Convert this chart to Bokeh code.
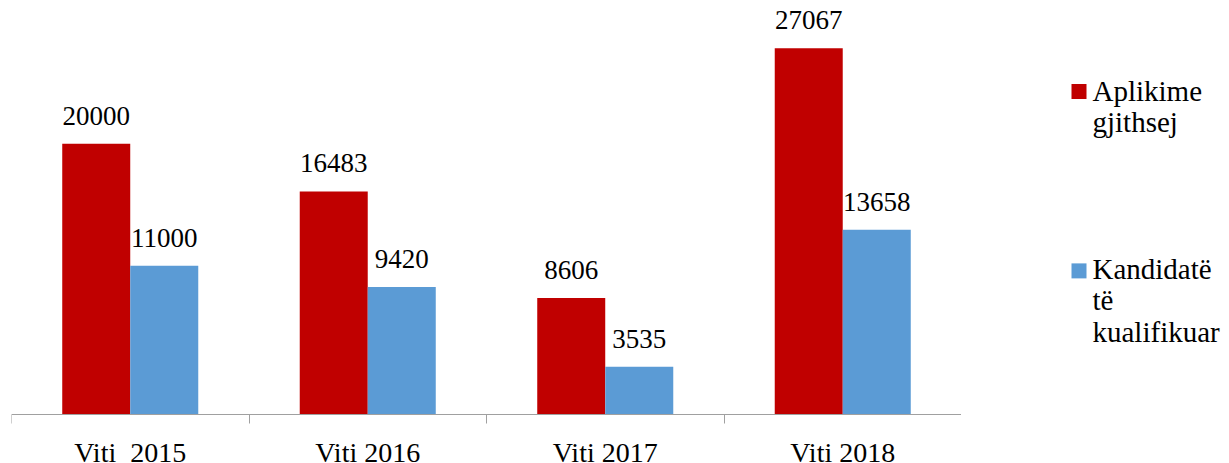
from bokeh.plotting import figure
from bokeh.models import Range1d, FixedTicker, ColumnDataSource, LabelSet
from bokeh.transform import dodge
from bokeh.layouts import row
from bokeh.core.properties import value
from bokeh.embed import file_html
from bokeh.resources import INLINE

# ---- data ----
categories = ["Viti\u00a0 2015", "Viti 2016", "Viti 2017", "Viti 2018"]
aplikime = [20000, 16483, 8606, 27067]
kandidate = [11000, 9420, 3535, 13658]
series_names = [["Aplikime", "gjithsej"], ["Kandidatë", "të", "kualifikuar"]]
colors = ["#C00000", "#5B9BD5"]

FONT = "Liberation Serif"
AXIS_GRAY = "#A0A0A0"

n = len(categories)
xpos = [i + 0.5 for i in range(n)]
src = ColumnDataSource(dict(x=xpos, a=aplikime, k=kandidate, cat=categories, base=[0] * n))

YMAX = 30000
PX_PER_UNIT = 406 / YMAX
BELOW_PX = 49
p = figure(
    width=961, height=463,
    x_range=Range1d(0, n), y_range=Range1d(-BELOW_PX / PX_PER_UNIT, YMAX),
    y_axis_location=None,
    output_backend="svg", toolbar_location=None,
    min_border_left=11, min_border_right=0, min_border_top=8, min_border_bottom=0,
)
p.outline_line_color = None
p.grid.visible = False

bw = 0.2863
off = 0.1432
p.vbar(x=dodge("x", -off, range=p.x_range), top="a", width=bw, source=src,
       fill_color=colors[0], line_color=None)
p.vbar(x=dodge("x", off, range=p.x_range), top="k", width=bw, source=src,
       fill_color=colors[1], line_color=None)

# value labels above the bars
HALF_BAR_PX = 34
vsrc = ColumnDataSource(dict(
    x=xpos * 2,
    y=aplikime + kandidate,
    text=[str(v) for v in aplikime] + [str(v) for v in kandidate],
    xo=[-HALF_BAR_PX] * n + [HALF_BAR_PX] * n,
))
p.text(x="x", y="y", text="text", x_offset="xo", y_offset=-28, source=vsrc,
       text_font=value(FONT), text_font_style="normal", text_font_size="27px",
       text_color="black", text_align="center", text_baseline="alphabetic")

# category labels under the axis line
p.text(x="x", y="base", text="cat", y_offset=38, source=src,
       text_font=value(FONT), text_font_style="normal", text_font_size="28px",
       text_color="black", text_align="center", text_baseline="alphabetic")

ax = p.xaxis[0]
ax.fixed_location = 0
ax.ticker = FixedTicker(ticks=xpos, minor_ticks=list(range(n + 1)))
ax.major_label_overrides = {x: "" for x in xpos}
ax.axis_line_color = AXIS_GRAY
ax.major_tick_line_color = None
ax.major_tick_out = 0
ax.major_tick_in = 0
ax.minor_tick_line_color = AXIS_GRAY
ax.minor_tick_out = 9
ax.minor_tick_in = 0
ax.major_label_standoff = 0

# ---- legend panel ----
lg = figure(
    width=268, height=463,
    x_range=Range1d(0, 268), y_range=Range1d(463, 0),
    x_axis_location=None, y_axis_location=None,
    output_backend="svg", toolbar_location=None,
    min_border=0,
)
lg.outline_line_color = None
lg.grid.visible = False

sq_y = [84.5, 267]
lg.rect(x=[117.5, 117.5], y=sq_y, width=15, height=15,
        width_units="screen", height_units="screen",
        fill_color=colors, line_color=None)
line_gap = 32
tx, ty, tt = [], [], []
first_baselines = [94, 275]
for lines, b in zip(series_names, first_baselines):
    for j, t in enumerate(lines):
        tx.append(131)
        ty.append(b + j * line_gap)
        tt.append(t)
lsrc = ColumnDataSource(dict(x=tx, y=ty, t=tt))
lg.add_layout(LabelSet(x="x", y="y", text="t", source=lsrc, text_align="left",
                       text_font=FONT, text_font_style="normal", text_font_size="29px",
                       text_color="black", text_baseline="alphabetic"))

layout = row(p, lg)
open("out.html", "w").write(file_html(layout, INLINE))
